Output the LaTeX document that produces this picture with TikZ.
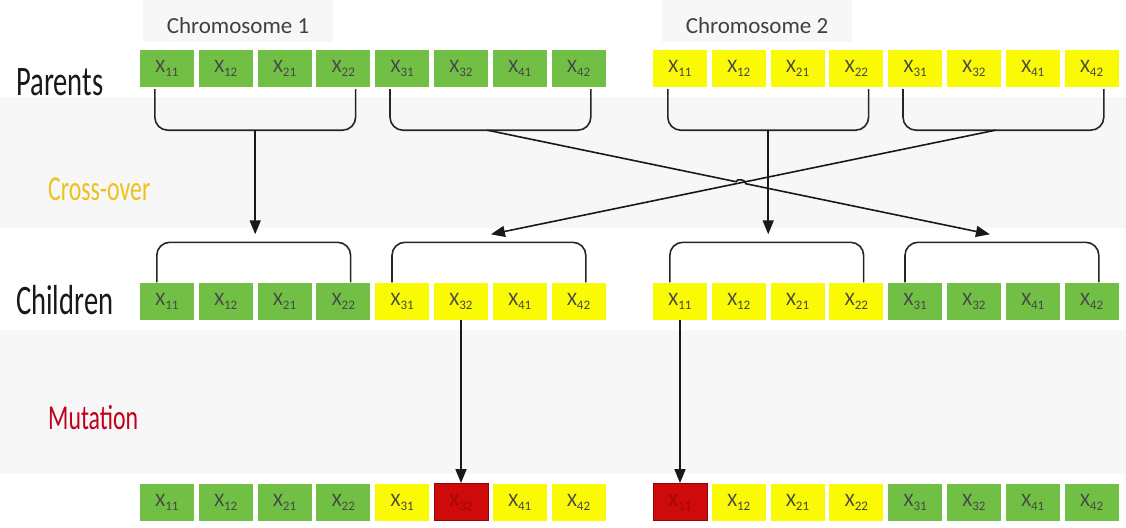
\documentclass[tikz,border=0pt]{standalone}
\usepackage{fontspec}
\setmainfont{Carlito}
\newfontfamily\condfont[FakeStretch=0.68]{Carlito}
\usetikzlibrary{arrows.meta,calc,intersections}

\definecolor{genegreen}{HTML}{72BF45}
\definecolor{geneyellow}{HTML}{FAFA05}
\definecolor{genered}{HTML}{CF0A0A}
\definecolor{generedline}{HTML}{8E0505}
\definecolor{generedtext}{HTML}{A00808}
\definecolor{crossgold}{HTML}{EEC21C}
\definecolor{mutred}{HTML}{C0001C}
\definecolor{band}{HTML}{F7F7F7}

% gene label: X with a two-digit index
\newcommand\gx[1]{X\raisebox{-4pt}{\fontsize{13}{13}\selectfont #1}}

\tikzset{
  gene/.style={minimum width=54pt, minimum height=37pt, inner sep=0pt,
    text=black!72, font=\fontsize{19}{19}\selectfont},
  green gene/.style={fill=genegreen},
  yellow gene/.style={fill=geneyellow},
  red gene/.style={fill=genered, draw=generedline, line width=0.8pt, text=generedtext},
  brace/.style={draw=black!85, line width=1.6pt, rounded corners=13pt},
  link/.style={draw=black!90, line width=1.6pt, -{Triangle[length=14pt,width=11pt]}},
  rowlabel/.style={anchor=base west, inner sep=0pt, text=black!90,
    font=\condfont\fontsize{42}{42}\selectfont},
  steplabel/.style={anchor=base west, inner sep=0pt,
    font=\condfont\fontsize{35}{35}\selectfont},
  chromlabel/.style={inner sep=0pt, text=black!75, font=\fontsize{23}{23}\selectfont}
}

\begin{document}
\begin{tikzpicture}[x=1pt,y=-1pt]
\useasboundingbox (0,0) rectangle (1126,527);
\fill[white] (0,0) rectangle (1126,527);

% soft background bands
\fill[band] (143,0) rectangle (333,42);
\fill[band] (662,0) rectangle (852,42);
\fill[band] (0,97) rectangle (1126,228);
\fill[band] (0,330) rectangle (1126,474);

% titles
\node[chromlabel] (ch1) at (238,26) {Chromosome 1};
\node[chromlabel] (ch2) at (757,26) {Chromosome 2};

% row and step labels
\node[rowlabel] (parents) at (16,95) {Parents};
\node[rowlabel] (children) at (16,314) {Children};
\node[steplabel, text=crossgold] (cross) at (48,200) {Cross-over};
\node[steplabel, text=mutred] (mut) at (48,429) {Mutation};

% gene boxes: parents, children and mutated children
\foreach \g [count=\i] in {11,12,21,22,31,32,41,42} {
  \pgfmathsetmacro\xa{167+(\i-1)*58.8}
  \pgfmathsetmacro\xb{680+(\i-1)*58.8}
  \ifnum\i<5 \def\ca{green gene}\def\cb{yellow gene}\else\def\ca{yellow gene}\def\cb{green gene}\fi
  \node[gene, green gene] (P1-\i) at (\xa,68.5) {\gx{\g}};
  \node[gene, yellow gene] (P2-\i) at (\xb,68.5) {\gx{\g}};
  \node[gene, \ca] (C1-\i) at (\xa,301) {\gx{\g}};
  \node[gene, \cb] (C2-\i) at (\xb,301) {\gx{\g}};
  \ifnum\i=6 \def\ca{red gene}\fi
  \ifnum\i=1 \def\cb{red gene}\fi
  \node[gene, \ca] (M1-\i) at (\xa,502) {\gx{\g}};
  \node[gene, \cb] (M2-\i) at (\xb,502) {\gx{\g}};
}

% braces under the parent halves
\foreach \n/\c/\a/\b in {1/1/1/4, 2/1/5/8, 3/2/1/4, 4/2/5/8} {
  \coordinate (pl\n) at ($(P\c-\a.south west)+(15,2)$);
  \coordinate (pr\n) at ($(P\c-\b.south east)+(-15,2)$);
  \draw[brace] (pl\n) |- ($(pr\n)+(0,41)$) -- (pr\n);
  \coordinate (pm\n) at ($(pl\n)!0.5!(pr\n)+(0,41)$);
}

% braces over the children halves
\foreach \n/\c/\a/\b in {1/1/1/4, 2/1/5/8, 3/2/1/4, 4/2/5/8} {
  \coordinate (cl\n) at ($(C\c-\a.north west)+(17,0)$);
  \coordinate (cr\n) at ($(C\c-\b.north east)+(-20,0)$);
  \draw[brace] (cl\n) |- ($(cr\n)+(0,-40)$) -- (cr\n);
  \coordinate (cm\n) at ($(cl\n)!0.5!(cr\n)+(0,-40)$);
}

% cross-over connectors
\draw[link] (pm1) -- ($(pm1 |- cm1)+(0,-8)$);
\draw[link] (pm3) -- ($(pm3 |- cm3)+(0,-8)$);
\coordinate (sA) at ($(pm2)+(-3,0)$);
\coordinate (tA) at ($(cm4)+(-12,-8)$);
\coordinate (sB) at ($(pm4)+(-8,0)$);
\coordinate (tB) at ($(cm2)+(2,-8)$);
\path[name path=lineA] (sA) -- (tA);
\path[name path=lineB] (sB) -- (tB);
\path[name intersections={of=lineA and lineB, by=X}];
\draw[link] (sB) -- (tB);
\draw[link] (sA) -- ($(X)!5pt!(sA)$) to[bend left=90] ($(X)!5pt!(tA)$) -- (tA);

% mutation connectors
\draw[link] (C1-6.south) -- (M1-6.north);
\draw[link] (C2-1.south) -- (M2-1.north);
\end{tikzpicture}
\end{document}
